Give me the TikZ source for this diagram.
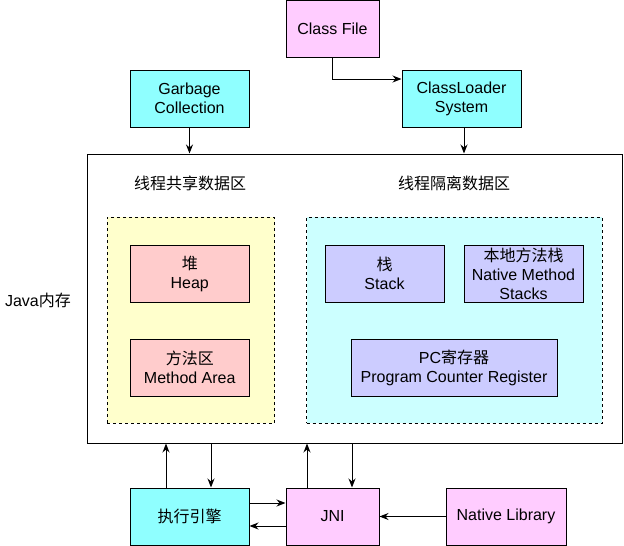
\documentclass[tikz,border=0pt]{standalone}
\usepackage{fontspec}
\setmainfont{Liberation Sans}
\newfontfamily\cjk{Noto Sans CJK SC}
\usepackage{xcolor}
\usetikzlibrary{arrows.meta,positioning}
\definecolor{vmcyan}{RGB}{143,255,255}
\definecolor{vmpink}{RGB}{255,204,255}
\definecolor{vmyellow}{RGB}{255,255,204}
\definecolor{vmaqua}{RGB}{204,255,255}
\definecolor{vmrose}{RGB}{255,204,204}
\definecolor{vmlilac}{RGB}{204,204,255}

\begin{document}
\begin{tikzpicture}[x=1pt, y=-1pt, line width=1pt,
    every node/.style={font=\fontsize{16}{19}\selectfont},
    block/.style={draw, inner sep=0pt, align=center, minimum height=57pt},
    area/.style={draw, dash pattern=on 3pt off 3pt, inner sep=0pt},
    flow/.style={-{Stealth[length=9pt,width=7pt]}}]
    \useasboundingbox (0,0) rectangle (624,546);

    % Memory frame
    \node[draw, fill=white, inner sep=0pt, minimum width=534.5pt, minimum height=289pt] (mem) at (354.75,298.5) {};
    \node (javamem) at (38,300) {Java{\cjk 内存}};
    \node (sharedtitle) at (190,183) {\cjk 线程共享数据区};
    \node (isotitle) at (454,183) {\cjk 线程隔离数据区};

    % Dashed areas
    \node[area, fill=vmyellow, minimum width=167.5pt, minimum height=206pt] (shared) at (190.75,320) {};
    \node[area, fill=vmaqua, minimum width=295.5pt, minimum height=206pt] (iso) at (454.25,320) {};

    % Shared data
    \node[block, fill=vmrose, minimum width=119.5pt] (heap) at (189.75,273.5) {{\cjk 堆}\\Heap};
    \node[block, fill=vmrose, minimum width=119.5pt] (method) at (189.75,367.5) {{\cjk 方法区}\\Method Area};

    % Isolated data
    \node[block, fill=vmlilac, minimum width=119pt] (stack) at (384.5,273.5) {{\cjk 栈}\\Stack};
    \node[block, fill=vmlilac, minimum width=119pt] (natstack) at (523.5,273.5) {{\cjk 本地方法栈}\\Native Method\\Stacks};
    \node[block, fill=vmlilac, minimum width=206pt] (pcreg) at (454,367.5) {PC{\cjk 寄存器}\\Program Counter Register};

    % Top boxes
    \node[block, fill=vmpink, minimum width=93pt, minimum height=56.5pt] (classfile) at (332.5,28.75) {Class File};
    \node[block, fill=vmcyan, minimum width=119pt] (gc) at (189.5,98.5) {Garbage\\Collection};
    \node[block, fill=vmcyan, minimum width=119pt] (loader) at (461.5,98.5) {ClassLoader\\System};

    % Bottom boxes
    \node[block, fill=vmcyan, minimum width=119pt] (engine) at (189.5,516.5) {\cjk 执行引擎};
    \node[block, fill=vmpink, minimum width=93pt] (jni) at (332.5,516.5) {JNI};
    \node[block, fill=vmpink, minimum width=120pt] (natlib) at (506,516.5) {Native Library};

    % Arrows
    \draw[flow] (classfile.south) |- ([yshift=19.5pt]loader.west);
    \draw[flow] (gc.south) -- (gc.south |- mem.north);
    \draw[flow] ([xshift=2.5pt]loader.south) -- ([xshift=2.5pt]loader.south |- mem.north);

    \draw[flow] ([xshift=-23.5pt]engine.north) -- ([xshift=-23.5pt]engine.north |- mem.south);
    \draw[flow] ([xshift=21.5pt]engine.north |- mem.south) -- ([xshift=21.5pt]engine.north);
    \draw[flow] ([xshift=-25.5pt]jni.north) -- ([xshift=-25.5pt]jni.north |- mem.south);
    \draw[flow] ([xshift=19.5pt]jni.north |- mem.south) -- ([xshift=19.5pt]jni.north);

    \draw[flow] ([yshift=13.5pt]engine.east) -- ([yshift=13.5pt]jni.west);
    \draw[flow] ([yshift=-9.5pt]jni.west) -- ([yshift=-9.5pt]engine.east);
    \draw[flow] (natlib.west) -- (jni.east);
\end{tikzpicture}
\end{document}
